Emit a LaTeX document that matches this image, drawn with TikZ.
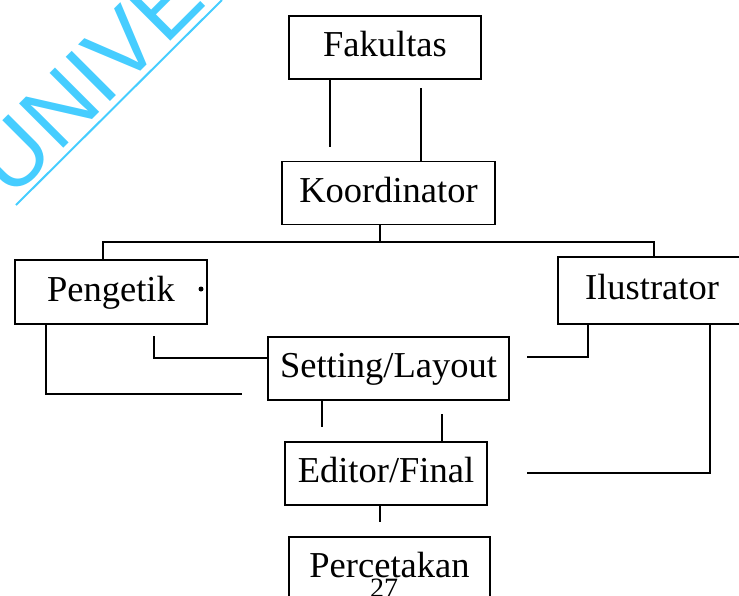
\documentclass[tikz,border=0pt]{standalone}
\usepackage{fontspec}
\setmainfont{Liberation Serif}
\newfontfamily\tandaair{Liberation Sans}
\definecolor{birumuda}{RGB}{70,205,255}
\tikzset{
  kotak/.style={draw, line width=1.6pt, inner sep=0pt, minimum height=63pt,
    text height=25.5pt, text depth=7.3pt, font=\fontsize{36.5}{40}\selectfont},
  garis/.style={line width=1.6pt}
}
\begin{document}
\begin{tikzpicture}[x=1pt,y=-1pt]
      \useasboundingbox (0,0) rectangle (739,595);
      \clip (0,0) rectangle (739,595);
      % tanda air
      \node[rotate=45, anchor=base west, inner sep=0pt, text=birumuda,
        font=\tandaair\fontsize{91}{91}\selectfont] (air) at (11.5,200.5) {UNIVER};
      \draw[birumuda, line width=2pt] (16,205) -- (222,0);
      \draw
        (385,47.5) node[kotak, minimum width=192pt] (fak){Fakultas}
        (388.5,193) node[kotak, minimum width=213pt] (koor){Koordinator}
        (111,292) node[kotak, minimum width=192pt, minimum height=64pt] (ketik){Pengetik}
        (652,290.5) node[kotak, minimum width=188pt, minimum height=67pt] (ilus){Ilustrator}
        (388.5,368.5) node[kotak, minimum width=241pt] (set){Setting/Layout}
        (386,473.5) node[kotak, minimum width=202pt] (edit){Editor/Final}
        (389.5,568.5) node[kotak, minimum width=201pt] (cetak){Percetakan};
      \fill ([xshift=90pt,yshift=3pt]ketik.center) circle (2.5pt);
      \node[inner sep=0pt, font=\fontsize{28}{28}\selectfont] (hal) at (384,588) {27};
      \coordinate (fk1) at (330,147);
      \coordinate (fk2) at (421,88);
      \coordinate (bus) at (380,242);
      \coordinate (kt1) at (154,336);
      \coordinate (kt2) at (242,394);
      \coordinate (il1) at (527,357);
      \coordinate (il2) at (527,473);
      \coordinate (st1) at (322,427);
      \coordinate (st2) at (442,414);
      \coordinate (ed1) at (380,522);
      \begin{scope}[garis]
        \draw (fak.south -| fk1) to (fk1);
        \draw (fk2) to (fk2 |- koor.north);
        \draw (koor.south -| bus) to (bus);
        \draw ([xshift=-8pt]ketik.north) |- (bus) -| ([xshift=2pt]ilus.north);
        \draw (kt1) |- ([yshift=10.5pt]set.west);
        \draw ([xshift=-65pt]ketik.south) |- (kt2);
        \draw ([xshift=-64pt]ilus.south) |- (il1);
        \draw ([xshift=58pt]ilus.south) |- (il2);
        \draw (set.south -| st1) to (st1);
        \draw (st2) to (st2 |- edit.north);
        \draw (edit.south -| ed1) to (ed1);
      \end{scope}
    \end{tikzpicture}
\end{document}
